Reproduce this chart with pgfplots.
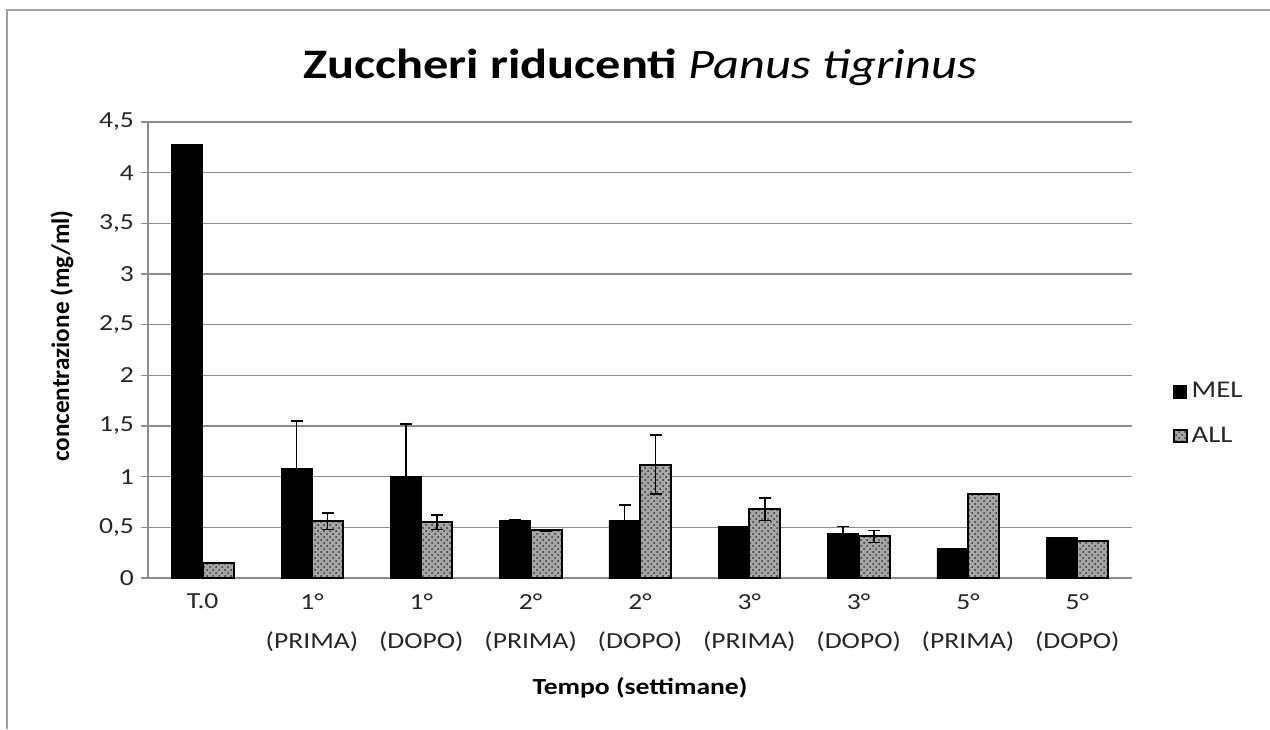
\documentclass[border=0pt]{standalone}
\usepackage{fontspec}
\setmainfont[FakeStretch=1.2]{Carlito}
\newfontfamily\plainfont{Carlito}
\usepackage{pgfplots}
\pgfplotsset{compat=1.18}
\usetikzlibrary{patterns}
\definecolor{gridgray}{RGB}{140,140,140}

\begin{document}
\begin{tikzpicture}
\path[use as bounding box] (0pt,0pt) rectangle (635pt,364.5pt);
\draw[gray!75, line width=1.2pt] (3.5pt,0pt) -- (3.5pt,359.5pt) -- (635pt,359.5pt);
\node[font=\fontsize{21}{25}\selectfont] at (320pt,331pt) {\textbf{Zuccheri riducenti} \textit{Panus tigrinus}};
\node[font=\fontsize{11.5}{14}\selectfont\bfseries] at (320pt,20.5pt) {Tempo (settimane)};
\node[font=\plainfont\fontsize{12.6}{15}\selectfont\bfseries, rotate=90] at (31pt,196.5pt) {concentrazione (mg/ml)};
\begin{axis}[
  at={(74pt,75.5pt)}, anchor=south west,
  scale only axis, width=492pt, height=228pt,
  xmin=-0.5, xmax=8.5, ymin=0, ymax=4.5,
  ybar=0pt, bar width=15.5pt,
  axis x line=bottom, axis y line=left,
  axis line style={-, gridgray, line width=0.8pt},
  ymajorgrids, grid style={gridgray, line width=0.8pt},
  ytick={0,0.5,...,4.5},
  tick align=outside, major tick length=3.5pt,
  tick style={gridgray, line width=0.8pt},
  yticklabel style={font=\fontsize{11.5}{14}\selectfont, text=black!85},
  /pgf/number format/.cd, use comma, fixed, assume math mode=true,
  /pgfplots/.cd,
  xtick={0,...,8},
  xticklabels={T.0,{1°\\(PRIMA)},{1°\\(DOPO)},{2°\\(PRIMA)},{2°\\(DOPO)},{3°\\(PRIMA)},{3°\\(DOPO)},{5°\\(PRIMA)},{5°\\(DOPO)}},
  xticklabel style={align=center, font=\fontsize{11.5}{19.5}\selectfont, text=black!85, yshift=-1pt},
  x tick style={draw=none},
  extra x ticks={-0.5,0.5,...,8.5},
  extra x tick labels={},
  extra x tick style={tick style={gridgray, line width=0.8pt}, major tick length=3.5pt},
  legend style={at={(1.035,0.36)}, anchor=west, draw=none, fill=none,
    font=\fontsize{12}{14}\selectfont, text=black!85, row sep=9pt},
  legend cell align=left,
  legend image code/.code={\draw[#1] (0pt,-3.2pt) rectangle (6.4pt,3.2pt);},
  error bars/y dir=both, error bars/y explicit,
  error bars/error bar style={black, line width=0.7pt},
  error bars/error mark options={rotate=90, mark size=3pt, black, line width=0.7pt},
]
\addplot[fill=black, draw=black] coordinates {
  (0,4.28) +- (0,0)
  (1,1.08) +- (0,0.47)
  (2,1.00) +- (0,0.52)
  (3,0.57) +- (0,0.01)
  (4,0.57) +- (0,0.15)
  (5,0.51) +- (0,0)
  (6,0.44) +- (0,0.07)
  (7,0.29) +- (0,0)
  (8,0.40) +- (0,0)
};
\addplot[fill=black!35, postaction={pattern=crosshatch dots, pattern color=black!80}, draw=black, line width=1pt] coordinates {
  (0,0.15) +- (0,0)
  (1,0.56) +- (0,0.08)
  (2,0.55) +- (0,0.07)
  (3,0.47) +- (0,0.01)
  (4,1.12) +- (0,0.29)
  (5,0.68) +- (0,0.11)
  (6,0.41) +- (0,0.06)
  (7,0.83) +- (0,0)
  (8,0.37) +- (0,0)
};
\legend{MEL,ALL}
\end{axis}
\end{tikzpicture}
\end{document}
